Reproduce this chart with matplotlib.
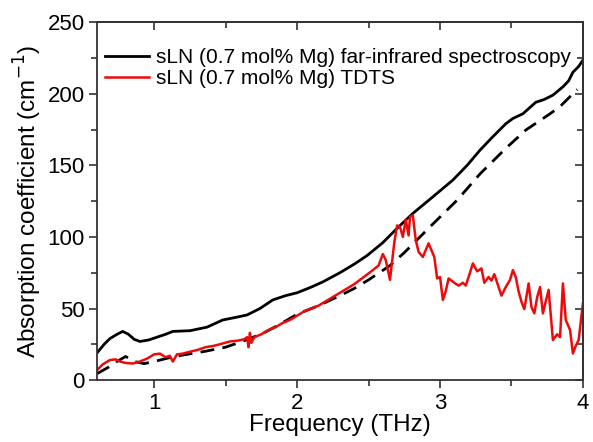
import matplotlib
matplotlib.use("Agg")
import matplotlib.pyplot as plt
from matplotlib.ticker import MultipleLocator

plt.rcParams['font.family'] = ['Liberation Sans', 'DejaVu Sans']

# Far-infrared spectroscopy (solid black)
fir_x = [0.60, 0.65, 0.69, 0.74, 0.78, 0.82, 0.86, 0.90, 0.96, 1.02, 1.08, 1.13, 1.25, 1.37, 1.48,
         1.58, 1.65, 1.74, 1.83, 1.92, 2.00, 2.10, 2.18, 2.30, 2.40, 2.49, 2.60, 2.70, 2.81, 2.95,
         3.09, 3.19, 3.28, 3.37, 3.46, 3.51, 3.58, 3.67, 3.73, 3.79, 3.86, 3.90, 3.93, 3.97, 4.00]
fir_y = [19, 25, 29, 32, 34, 32, 28.5, 27, 28, 30, 32, 34, 34.5, 37, 42,
         44, 45.5, 50, 56, 59, 61, 65, 68.6, 75, 81, 87, 96, 106, 116.4, 128,
         139.7, 150, 160.6, 170, 179, 182.7, 186, 194, 196, 199, 204.8, 209, 215, 219, 223.5]

# Dashed black reference curve
dash_x = [0.60, 0.68, 0.74, 0.80, 0.86, 0.93, 1.00, 1.10, 1.20, 1.35, 1.50, 1.63, 1.76, 1.88, 2.00,
          2.15, 2.30, 2.40, 2.50, 2.65, 2.75, 2.84, 2.95, 3.12, 3.28, 3.46, 3.60, 3.77, 3.84, 3.93, 3.96]
dash_y = [4.5, 9, 13, 16.5, 13, 11.5, 13, 15.5, 17.5, 20, 23, 27.5, 32.6, 39, 46,
          52, 59, 64, 70, 80, 89, 98, 109, 125.7, 144, 161.8, 174.6, 186, 191, 200, 203]

# TDTS (red, noisy)
tdts_x = [0.60, 0.64, 0.69, 0.73, 0.76, 0.80, 0.85, 0.90, 0.95, 1.00, 1.04, 1.08, 1.11, 1.13, 1.16,
          1.20, 1.25, 1.30, 1.36, 1.42, 1.48, 1.53, 1.58, 1.63, 1.65, 1.66, 1.67, 1.68, 1.70,
          1.75, 1.80, 1.85, 1.90, 1.95, 2.00, 2.05, 2.10, 2.15, 2.20, 2.25, 2.30, 2.35, 2.40,
          2.44, 2.48, 2.53, 2.57, 2.60, 2.62, 2.65, 2.68, 2.70, 2.72, 2.74, 2.76, 2.78, 2.79,
          2.81, 2.83, 2.85, 2.88, 2.92, 2.96, 2.98, 3.00, 3.02, 3.04, 3.06, 3.10, 3.13, 3.16,
          3.18, 3.20, 3.23, 3.26, 3.29, 3.31, 3.34, 3.36, 3.38, 3.40, 3.43, 3.46, 3.49, 3.51,
          3.53, 3.55, 3.57, 3.59, 3.62, 3.64, 3.66, 3.68, 3.70, 3.72, 3.74, 3.76, 3.79, 3.82,
          3.84, 3.86, 3.88, 3.91, 3.93, 3.95, 3.97, 4.00]
tdts_y = [7, 11, 14, 14.5, 13, 12, 11.6, 13, 15, 18, 18.5, 16, 17, 13, 18,
          18.5, 19.8, 21, 23, 24, 25.6, 27, 27.5, 28.5, 30, 23, 33, 26, 30,
          32, 35, 37, 40, 42, 45, 48, 50, 52, 55, 58, 61, 64, 67,
          70, 73, 76.8, 80, 88, 84, 70, 96, 108, 107, 100, 112, 101, 114,
          115, 98, 89.6, 86, 95.5, 86, 71, 72, 56, 62, 71, 68, 66, 68,
          66, 72, 81.5, 76, 78, 68, 72, 69.5, 74, 68, 59, 65, 70, 76.8,
          72, 62, 54.7, 49.6, 67.5, 51, 46.6, 58, 65, 46.6, 55, 63, 28, 32,
          30, 67.5, 42, 35, 18.6, 24, 28, 53.5]

fig = plt.figure(figsize=(5.93, 4.42), dpi=100)
ax = fig.add_axes([0.1636, 0.140, 0.8194, 0.810])

ax.plot(dash_x, dash_y, color='black', lw=2.0, ls=(0, (5, 3)))
ax.plot(fir_x, fir_y, color='black', lw=2.0,
        label='sLN (0.7 mol% Mg) far-infrared spectroscopy')
ax.plot(tdts_x, tdts_y, color='#ee0a0a', lw=1.8,
        label='sLN (0.7 mol% Mg) TDTS')

ax.set_xlim(0.6, 4.0)
ax.set_ylim(0, 250)
ax.xaxis.set_major_locator(MultipleLocator(1))
ax.xaxis.set_minor_locator(MultipleLocator(0.5))
ax.yaxis.set_major_locator(MultipleLocator(50))
ax.yaxis.set_minor_locator(MultipleLocator(25))

ax.tick_params(which='both', direction='out', labelsize=16, color='#333333',
               top=False, right=False, pad=3)
ax.tick_params(which='major', length=6, width=1.2)
ax.tick_params(which='minor', length=4, width=1.2)
# mirrored inward ticks on top/right
axt = ax.secondary_xaxis('top')
axt.xaxis.set_major_locator(MultipleLocator(1))
axt.xaxis.set_minor_locator(MultipleLocator(0.5))
axt.tick_params(which='both', direction='in', labeltop=False, color='#333333', width=1.2)
axt.tick_params(which='major', length=6)
axt.tick_params(which='minor', length=4)
axr = ax.secondary_yaxis('right')
axr.yaxis.set_major_locator(MultipleLocator(50))
axr.yaxis.set_minor_locator(MultipleLocator(25))
axr.tick_params(which='both', direction='in', labelright=False, color='#333333', width=1.2)
axr.tick_params(which='major', length=6)
axr.tick_params(which='minor', length=4)
for s in ax.spines.values():
    s.set_linewidth(1.3)
    s.set_color('#333333')
axt.spines['top'].set_linewidth(1.3)
axt.spines['top'].set_color('#333333')
axr.spines['right'].set_linewidth(1.3)
axr.spines['right'].set_color('#333333')

ax.set_xlabel('Frequency (THz)', fontsize=17.5, labelpad=0)
ax.set_ylabel('Absorption coefficient (cm$^{-1}$)', fontsize=17.5, labelpad=2)

ax.legend(loc='upper left', bbox_to_anchor=(0.0, 0.95), frameon=False, fontsize=15,
          handlelength=2.1, handletextpad=0.35, labelspacing=0.1, borderaxespad=0.0)

fig.savefig('out.png', dpi=100)
